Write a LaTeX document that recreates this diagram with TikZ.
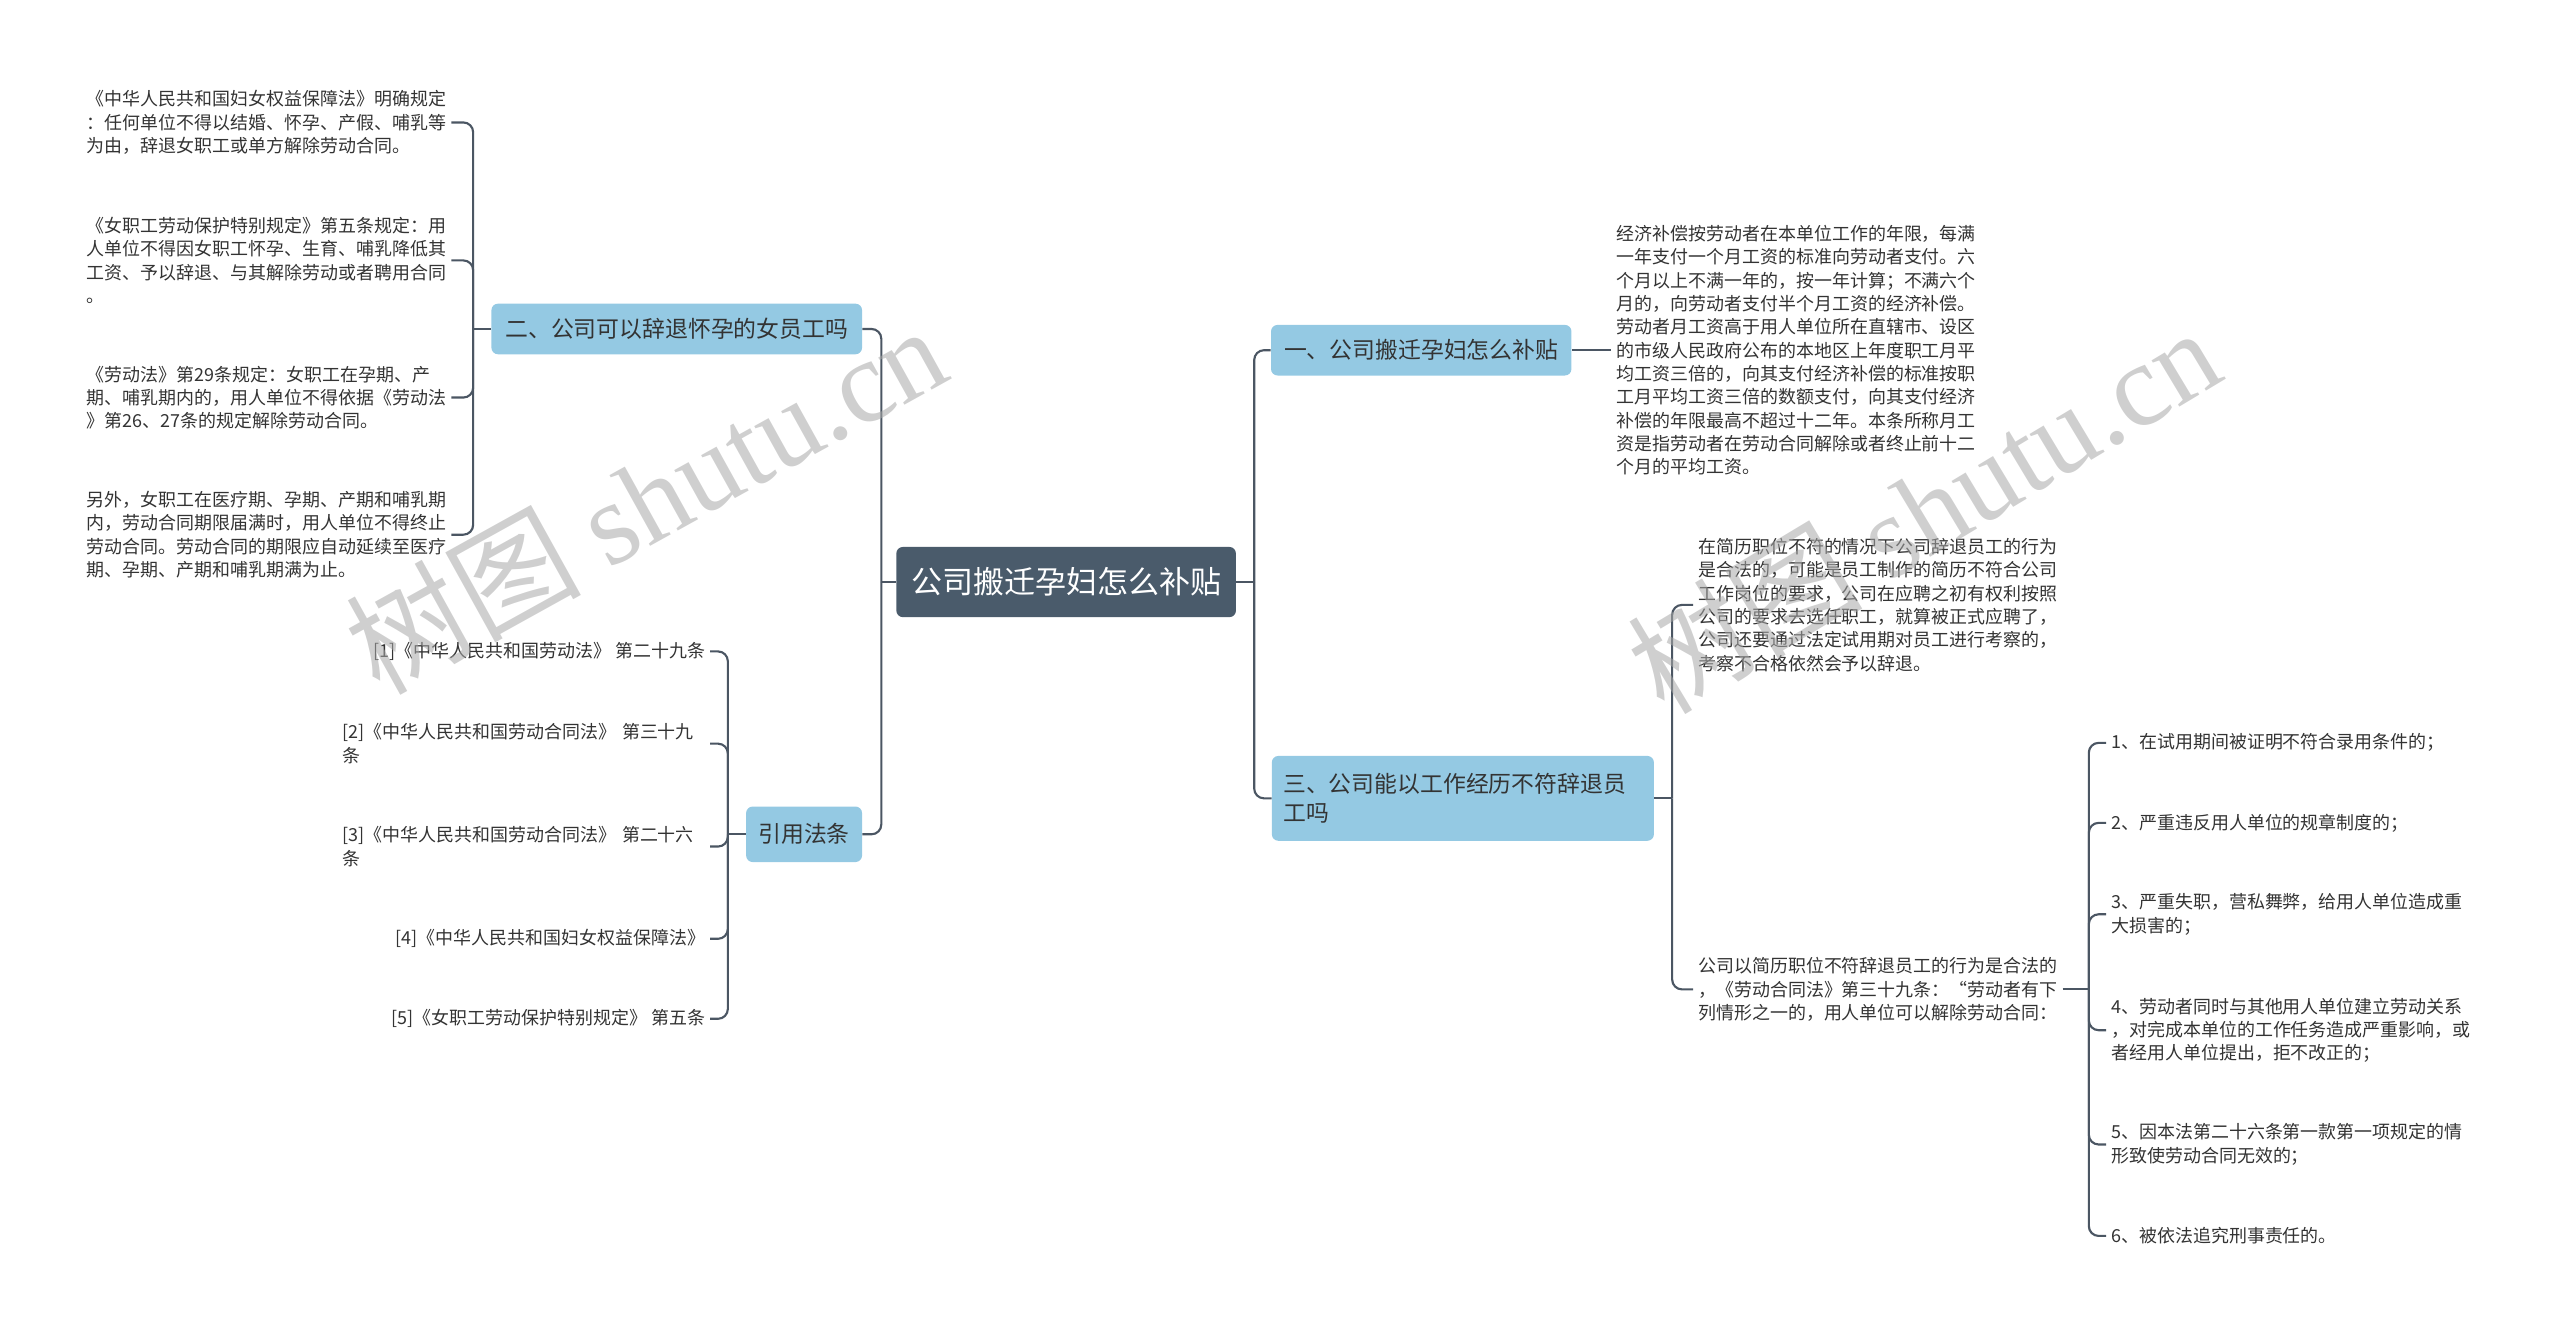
\documentclass[tikz,border=0pt]{standalone}
\usepackage{fontspec}
\setmainfont{Noto Sans CJK SC}
\newfontfamily\wmserif{Liberation Serif}
\usetikzlibrary{positioning}

\definecolor{rootfill}{HTML}{4A5B6B}
\definecolor{subfill}{HTML}{94C9E3}
\definecolor{linecol}{HTML}{4B5663}
\definecolor{txtcol}{HTML}{333333}
\definecolor{wmcol}{HTML}{A8A8A8}

\begin{document}
\begin{tikzpicture}[x=1pt,y=-1pt,
    conn/.style={draw=linecol, line width=1.3pt, rounded corners=6pt},
    rootbox/.style={fill=rootfill, rounded corners=4pt, text=white,
        font=\fontsize{19}{22}\selectfont, minimum width=208pt,
        minimum height=43pt, inner sep=0pt},
    subbox/.style={fill=subfill, rounded corners=4pt, text=txtcol,
        font=\fontsize{14}{18}\selectfont, minimum height=31pt, inner sep=0pt},
    leaf/.style={text=txtcol, font=\fontsize{11}{14.3}\selectfont,
        align=left, inner xsep=3pt, inner ysep=0pt},
    wm/.style={text=wmcol, opacity=0.55,
        font=\fontsize{72}{72}\selectfont}]

\useasboundingbox (0,0) rectangle (1568,818);

\node[rootbox] (root) at (653,356.5) {公司搬迁孕妇怎么补贴};

\node[subbox, minimum width=227pt] (fire) at (414.5,201.5)
    {二、公司可以辞退怀孕的女员工吗};
\node[subbox, minimum width=71pt, minimum height=34pt] (law) at (492.5,511)
    {引用法条};
\node[subbox, minimum width=184pt] (pay) at (870.5,214.5)
    {一、公司搬迁孕妇怎么补贴};
\node[subbox, minimum width=234pt, minimum height=52pt, align=left,
    text width=220pt] (resume) at (896,489)
    {三、公司能以工作经历不符辞退员\\工吗};

% left: women workers
\node[leaf, anchor=west] (f1) at (50,75)
    {《中华人民共和国妇女权益保障法》明确规定\\：任何单位不得以结婚、怀孕、产假、哺乳等\\为由，辞退女职工或单方解除劳动合同。};
\node[leaf, anchor=west] (f2) at (50,159.5)
    {《女职工劳动保护特别规定》第五条规定：用\\人单位不得因女职工怀孕、生育、哺乳降低其\\工资、予以辞退、与其解除劳动或者聘用合同\\。};
\node[leaf, anchor=west] (f3) at (50,243.5)
    {《劳动法》第29条规定：女职工在孕期、产\\期、哺乳期内的，用人单位不得依据《劳动法\\》第26、27条的规定解除劳动合同。};
\node[leaf, anchor=west] (f4) at (50,327.5)
    {另外，女职工在医疗期、孕期、产期和哺乳期\\内，劳动合同期限届满时，用人单位不得终止\\劳动合同。劳动合同的期限应自动延续至医疗\\期、孕期、产期和哺乳期满为止。};

% left: cited articles
\node[leaf, anchor=east] (c1) at (435,399)
    {[1]《中华人民共和国劳动法》 第二十九条};
\node[leaf, anchor=east, text width=222pt] (c2) at (435,455.5)
    {[2]《中华人民共和国劳动合同法》 第三十九\\条};
\node[leaf, anchor=east, text width=222pt] (c3) at (435,518.5)
    {[3]《中华人民共和国劳动合同法》 第二十六\\条};
\node[leaf, anchor=east] (c4) at (435,575)
    {[4]《中华人民共和国妇女权益保障法》};
\node[leaf, anchor=east] (c5) at (435,624)
    {[5]《女职工劳动保护特别规定》 第五条};

% right: compensation
\node[leaf, anchor=west] (payt) at (987,214.5)
    {经济补偿按劳动者在本单位工作的年限，每满\\一年支付一个月工资的标准向劳动者支付。六\\个月以上不满一年的，按一年计算；不满六个\\月的，向劳动者支付半个月工资的经济补偿。\\劳动者月工资高于用人单位所在直辖市、设区\\的市级人民政府公布的本地区上年度职工月平\\均工资三倍的，向其支付经济补偿的标准按职\\工月平均工资三倍的数额支付，向其支付经济\\补偿的年限最高不超过十二年。本条所称月工\\资是指劳动者在劳动合同解除或者终止前十二\\个月的平均工资。};

% right: resume
\node[leaf, anchor=west] (ra) at (1037,370.5)
    {在简历职位不符的情况下公司辞退员工的行为\\是合法的，可能是员工制作的简历不符合公司\\工作岗位的要求，公司在应聘之初有权利按照\\公司的要求去选任职工，就算被正式应聘了，\\公司还要通过法定试用期对员工进行考察的，\\考察不合格依然会予以辞退。};
\node[leaf, anchor=west] (rb) at (1037,606)
    {公司以简历职位不符辞退员工的行为是合法的\\，《劳动合同法》第三十九条：“劳动者有下\\列情形之一的，用人单位可以解除劳动合同：};

\node[leaf, anchor=west] (b1) at (1290,455) {1、在试用期间被证明不符合录用条件的；};
\node[leaf, anchor=west] (b2) at (1290,504) {2、严重违反用人单位的规章制度的；};
\node[leaf, anchor=west] (b3) at (1290,560)
    {3、严重失职，营私舞弊，给用人单位造成重\\大损害的；};
\node[leaf, anchor=west] (b4) at (1290,631)
    {4、劳动者同时与其他用人单位建立劳动关系\\，对完成本单位的工作任务造成严重影响，或\\者经用人单位提出，拒不改正的；};
\node[leaf, anchor=west] (b5) at (1290,701)
    {5、因本法第二十六条第一款第一项规定的情\\形致使劳动合同无效的；};
\node[leaf, anchor=west] (b6) at (1290,757) {6、被依法追究刑事责任的。};

% connectors
\draw[conn] (root.west) -- ++(-9,0) coordinate (jl);
\draw[conn] (jl) |- (fire.east);
\draw[conn] (jl) |- (law.east);
\draw[conn] (root.east) -- ++(11,0) coordinate (jr);
\draw[conn] (jr) |- (pay.west);
\draw[conn] (jr) |- (resume.west);

\draw[conn] (fire.west) -- ++(-11,0) coordinate (jf);
\draw[conn] (jf) |- (f1.east);
\draw[conn] (jf) |- (f2.east);
\draw[conn] (jf) |- (f3.east);
\draw[conn] (jf) |- (f4.east);

\draw[conn] (law.west) -- ++(-11,0) coordinate (jc);
\draw[conn] (jc) |- (c1.east);
\draw[conn] (jc) |- (c2.east);
\draw[conn] (jc) |- (c3.east);
\draw[conn] (jc) |- (c4.east);
\draw[conn] (jc) |- (c5.east);

\draw[conn] (pay.east) -- (payt.west);

\draw[conn] (resume.east) -- ++(11,0) coordinate (jq);
\draw[conn] (jq) |- (ra.west);
\draw[conn] (jq) |- (rb.west);

\draw[conn] (rb.east) -- ++(16,0) coordinate (jb);
\draw[conn] (jb) |- (b1.west);
\draw[conn] (jb) |- (b2.west);
\draw[conn] (jb) |- (b3.west);
\draw[conn] (jb) |- (b4.west);
\draw[conn] (jb) |- (b5.west);
\draw[conn] (jb) |- (b6.west);

% watermark
\node[wm, rotate=29] (wmleft) at (395,305) {树图 {\wmserif shutu.cn}};
\node[wm, rotate=31] (wmright) at (1178,312) {树图 {\wmserif shutu.cn}};
\end{tikzpicture}
\end{document}
